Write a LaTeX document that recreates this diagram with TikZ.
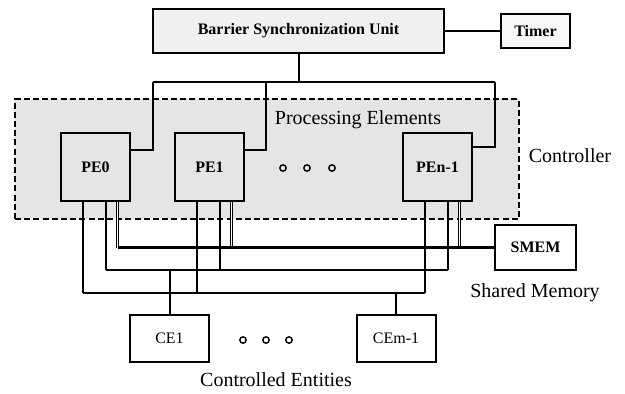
\documentclass[tikz,border=0pt]{standalone}
\usepackage{fontspec}
\setmainfont{Liberation Serif}
\usetikzlibrary{positioning, calc}

\begin{document}
\begin{tikzpicture}[
    x=0.5pt, y=-0.5pt,
    every node/.style={font=\fontsize{8}{9}\selectfont},
    unit/.style={draw, line width=1pt, inner sep=0pt, font=\fontsize{8}{9}\selectfont\bfseries},
    plainunit/.style={draw, line width=1pt, inner sep=0pt, fill=white},
    pebox/.style={unit, fill=gray!20, minimum width=34.5pt, minimum height=34pt},
    cebox/.style={plainunit, minimum width=39.5pt, minimum height=23.5pt},
    caption/.style={font=\fontsize{10}{12}\selectfont},
    wire/.style={line width=1pt},
    thinwire/.style={line width=0.7pt},
    membus/.style={line width=1.7pt},
    mempin/.style={line width=0.6pt, double=white, double distance=0.6pt},
    ellip/.style={line width=0.7pt},
]

\useasboundingbox (0,0) rectangle (625,393);

% ── Controller (dashed region) ──
\node[draw, line width=1pt, dash pattern=on 3pt off 1.6pt, fill=gray!20, inner sep=0pt,
      minimum width=252pt, minimum height=60pt]
    (ctrl) at (267,159) {};
\node[caption] at (358,120) {Processing Elements};
\node[caption] at (570,156) {Controller};

% ── Barrier synchronization unit + timer ──
\node[unit, fill=gray!12, minimum width=145.5pt, minimum height=22pt]
    (bsu) at (298.5,31) {Barrier Synchronization Unit};
\node[unit, fill=gray!6, minimum width=34.5pt, minimum height=17pt]
    (timer) at (535.5,31) {Timer};

% ── Processing elements ──
\node[pebox] (pe0) at (95.5,167) {PE0};
\node[pebox] (pe1) at (209.5,167) {PE1};
\node[pebox] (pen) at (437.5,167) {PEn-1};
\foreach \x in {283,307,332}
    \draw[ellip] (\x,168) circle (1.6pt);

% ── Shared memory ──
\node[unit, fill=white, minimum width=40.5pt, minimum height=22.5pt]
    (smem) at (535.5,247.5) {SMEM};
\node[caption] at (535,293) {Shared Memory};

% ── Controlled entities ──
\node[cebox] (ce1) at (169.5,338.5) {CE1};
\node[cebox] (cem) at (396,338.5) {CEm-1};
\foreach \x in {243,266,289}
    \draw[ellip] (\x,340) circle (1.6pt);
\node[caption, inner sep=1pt] at (276,380) {Controlled Entities};

% ── Arrows ──
% BSU -> Timer
\draw[thinwire] (bsu.east) -- (timer.west);

% BSU -> PEs
\coordinate (tapL) at (153,82);
\coordinate (tapM) at (266,82);
\coordinate (tapR) at (495,82);
\draw[wire] (bsu.south) -- (bsu.south |- tapL);
\draw[wire] (tapL) -- (tapR);
\draw[wire] ($(pe0.north east)!0.25!(pe0.south east)$) -| (tapL);
\draw[wire] ($(pe1.north east)!0.25!(pe1.south east)$) -| (tapM);
\draw[wire] ($(pen.north east)!0.22!(pen.south east)$) -| (tapR);

% PE pins: a -> bus C, b -> bus B, c -> memory bus
\coordinate (busB) at (0,270);
\coordinate (busC) at (0,293);
\foreach \p in {pe0,pe1,pen}{
    \coordinate (\p-a) at ($(\p.south west)!0.33!(\p.south east)$);
    \coordinate (\p-b) at ($(\p.south west)!0.65!(\p.south east)$);
    \coordinate (\p-c) at ($(\p.south west)!0.81!(\p.south east)$);
    \draw[wire] (\p-a) -- (\p-a |- busC);
    \draw[wire] (\p-b) -- (\p-b |- busB);
    \draw[mempin] (\p-c) -- (\p-c |- smem.west);
}

% buses
\draw[membus] (pe0-c |- smem.west) -- (smem.west);
\draw[wire] (pe0-b |- busB) -- (pen-b |- busB);
\draw[wire] (pe0-a |- busC) -- (pen-a |- busC);

% buses -> CEs
\draw[wire] (ce1.north) -- (ce1.north |- busB);
\draw[wire] (cem.north) -- (cem.north |- busC);

\end{tikzpicture}
\end{document}
